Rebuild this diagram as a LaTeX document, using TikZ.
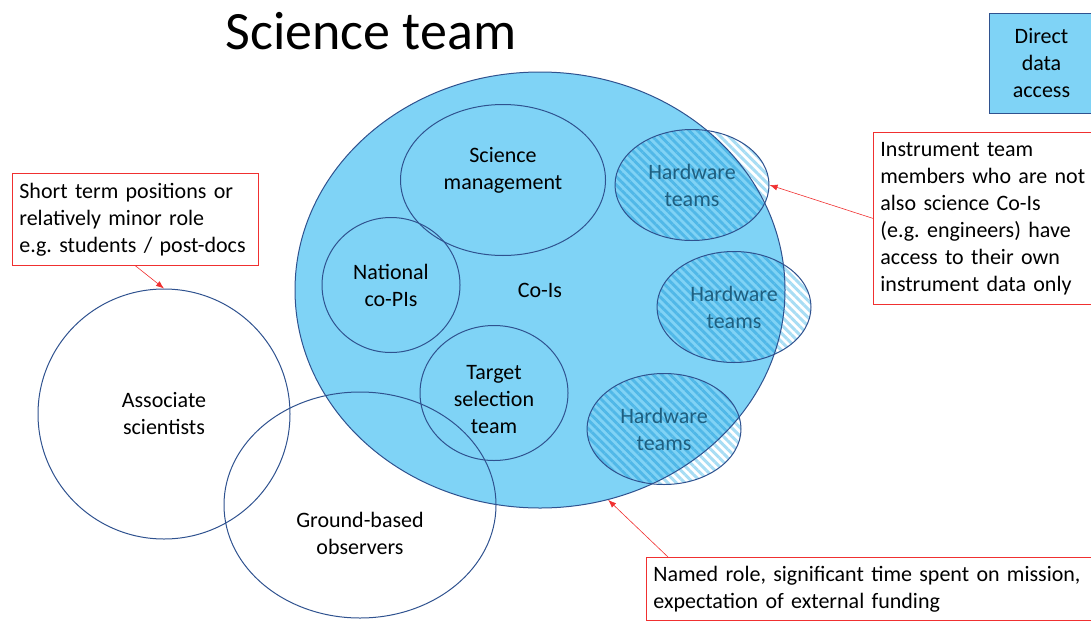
\documentclass[tikz,border=0pt]{standalone}
\usepackage{fontspec}
\setmainfont{Carlito}
\usetikzlibrary{shapes.geometric,arrows.meta,patterns.meta,backgrounds}
\definecolor{coiblue}{HTML}{7FD3F6}
\definecolor{edgeblue}{HTML}{2F528F}
\definecolor{hatchlight}{HTML}{A8DDF4}
\definecolor{hatchdark}{HTML}{50B8E8}
\definecolor{hwtext}{HTML}{1F5F80}
\definecolor{notered}{HTML}{F03030}
\tikzset{group/.style={ellipse,draw=edgeblue,line width=1pt,align=center,inner sep=0pt}}
\tikzset{hardware/.style={group,text=hwtext,minimum width=154,minimum height=111}}
\tikzset{stripes/.style={pattern={Lines[angle=-45,distance=6pt,line width=3pt]}}}
\tikzset{note/.style={rectangle,draw=notered,line width=0.8pt,fill=white,anchor=north west,align=left,inner xsep=7pt,inner ysep=0pt}}
\tikzset{access/.style={rectangle,draw=edgeblue,fill=coiblue,line width=1pt,anchor=north west,align=center}}
\tikzset{arrow/.style={draw=notered,line width=0.6pt,-{Latex[length=8pt,width=6pt]}}}

\begin{document}
\begin{tikzpicture}[x=1pt,y=-1pt,font=\fontsize{22}{27}\selectfont\frenchspacing]
    \useasboundingbox (0,0) rectangle (1091,621);

    \node[font=\fontsize{54}{60}\selectfont] (title) at (371,31) {Science team};

    \node[group,minimum width=490,minimum height=436] (cois) at (540,290) {Co-Is};
    \node[group,minimum width=205,minimum height=151,label={[align=center,yshift=10pt]center:Science\\management}] (mgmt) at (503,180) {};
    \node[group,minimum width=138,minimum height=135] (copis) at (391,285) {National\\co-PIs};
    \node[group,minimum width=148,minimum height=135,label={[align=center,yshift=-7pt]center:Target\\selection\\team}] (target) at (494,393) {};

    \node[hardware] (hw1) at (692,185) {Hardware\\teams};
    \node[hardware] (hw2) at (734,307) {Hardware\\teams};
    \node[hardware] (hw3) at (664,429) {Hardware\\teams};

    \begin{scope}[on background layer]
        \fill[coiblue] (cois.center) ellipse [x radius=245,y radius=218];
        \foreach \hw in {hw1,hw2,hw3}
            \path[stripes,pattern color=hatchlight] (\hw.center) ellipse [x radius=77,y radius=55.5];
        \clip (cois.center) ellipse [x radius=245,y radius=218];
        \foreach \hw in {hw1,hw2,hw3}
            \path[stripes,pattern color=hatchdark] (\hw.center) ellipse [x radius=77,y radius=55.5];
    \end{scope}

    \node[group,minimum width=252,minimum height=250] (assoc) at (164,414) {Associate\\scientists};
    \node[group,minimum width=272,minimum height=226,label={[align=center,yshift=-28pt]center:Ground-based\\observers}] (ground) at (360,505) {};

    \node[access,minimum width=104,minimum height=100] (access) at (989,13) {Direct\\data\\access};

    \node[note,minimum width=246,minimum height=92,text width=232] (shortnote) at (12,173) {Short term positions or\\relatively minor role\\e.g. students / post-docs};
    \node[note,minimum width=230,minimum height=172,text width=216] (instnote) at (873,132) {Instrument team\\members who are not\\also science Co-Is\\(e.g. engineers) have\\access to their own\\instrument data only};
    \node[note,minimum width=448,minimum height=63,text width=434] (namednote) at (646,557) {Named role, significant time spent on mission,\\expectation of external funding};

    \path[arrow] (shortnote.south) -- (assoc.north);
    \path[arrow] (instnote.west) -- (hw1.east);
    \path[arrow] ([xshift=22pt]namednote.north west) -- (cois.-72);
\end{tikzpicture}
\end{document}
